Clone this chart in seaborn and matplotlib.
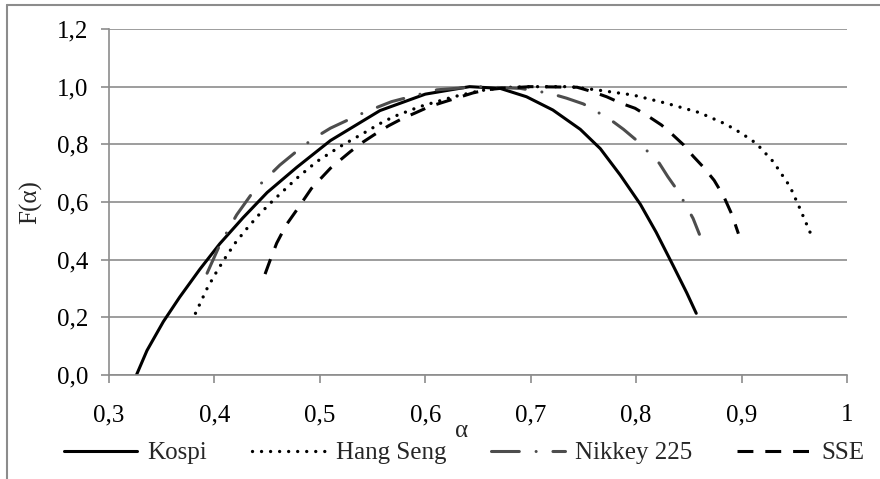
import matplotlib
matplotlib.use('Agg')
import matplotlib.pyplot as plt
import seaborn as sns
import pandas as pd

# multifractal spectra
kospi_a = [0.326, 0.336, 0.3515, 0.367, 0.386, 0.405, 0.427, 0.45, 0.478, 0.51, 0.557, 0.60,
           0.642, 0.671, 0.696, 0.721, 0.747, 0.766, 0.785, 0.804, 0.819, 0.835, 0.848, 0.857]
kospi_f = [0.0, 0.085, 0.185, 0.27, 0.366, 0.455, 0.545, 0.633, 0.72, 0.813, 0.917, 0.974,
           1.0, 0.994, 0.965, 0.919, 0.852, 0.785, 0.693, 0.592, 0.495, 0.38, 0.285, 0.214]

hang_a = [0.382, 0.393, 0.402, 0.41, 0.4195, 0.431, 0.442, 0.453, 0.478, 0.497, 0.519, 0.544,
          0.557, 0.57, 0.595, 0.627, 0.652, 0.674, 0.70, 0.737, 0.762, 0.797, 0.829, 0.86,
          0.885, 0.90, 0.914, 0.93, 0.946, 0.955, 0.966]
hang_f = [0.214, 0.30, 0.358, 0.405, 0.457, 0.509, 0.555, 0.596, 0.682, 0.74, 0.792, 0.844,
          0.872, 0.896, 0.931, 0.965, 0.986, 0.997, 1.0, 1.0, 0.989, 0.971, 0.942, 0.91,
          0.87, 0.838, 0.803, 0.74, 0.653, 0.58, 0.486]

nikkey_a = [0.393, 0.405, 0.413, 0.421, 0.438, 0.45, 0.462, 0.484, 0.497, 0.51, 0.538, 0.552,
            0.568, 0.611, 0.65, 0.69, 0.718, 0.734, 0.75, 0.775, 0.788, 0.801, 0.822, 0.83,
            0.84, 0.854, 0.86]
nikkey_f = [0.353, 0.451, 0.503, 0.555, 0.642, 0.685, 0.728, 0.794, 0.827, 0.856, 0.904, 0.925,
            0.948, 0.989, 1.0, 0.994, 0.977, 0.96, 0.94, 0.887, 0.852, 0.812, 0.734, 0.688,
            0.636, 0.543, 0.488]

sse_a = [0.448, 0.453, 0.459, 0.468, 0.478, 0.492, 0.51, 0.529, 0.541, 0.551, 0.565, 0.578,
         0.59, 0.604, 0.617, 0.631, 0.645, 0.658, 0.671, 0.70, 0.744, 0.758, 0.772, 0.786,
         0.799, 0.812, 0.824, 0.835, 0.845, 0.854, 0.864, 0.874, 0.883, 0.891, 0.897]
sse_f = [0.35, 0.40, 0.457, 0.52, 0.572, 0.647, 0.717, 0.775, 0.808, 0.832, 0.864, 0.889,
         0.908, 0.931, 0.946, 0.962, 0.978, 0.989, 0.994, 1.0, 0.998, 0.983, 0.965, 0.942,
         0.925, 0.896, 0.867, 0.832, 0.798, 0.759, 0.72, 0.675, 0.62, 0.555, 0.49]

x_ticks = [0.3, 0.4, 0.5, 0.6, 0.7, 0.8, 0.9, 1.0]
x_labels = ['0,3', '0,4', '0,5', '0,6', '0,7', '0,8', '0,9', '1']
y_ticks = [0.0, 0.2, 0.4, 0.6, 0.8, 1.0, 1.2]
y_labels = ['0,0', '0,2', '0,4', '0,6', '0,8', '1,0', '1,2']

series = [
    ('Kospi', kospi_a, kospi_f, 'black', '-', 2.2, 'butt'),
    ('Hang Seng', hang_a, hang_f, 'black', (0, (0.01, 2.7)), 2.4, 'round'),
    ('Nikkey 225', nikkey_a, nikkey_f, '#4d4d4d', (0, (9.1, 5.5, 0.01, 5.5)), 2.2, 'round'),
    ('SSE', sse_a, sse_f, 'black', (0, (5.2, 3.9)), 2.2, 'butt'),
]

sns.set_style('white')
plt.rcParams['font.family'] = ['Liberation Serif', 'DejaVu Serif']

fig = plt.figure(figsize=(8.8, 4.79), dpi=100)
ax = fig.add_axes([0.1239, 0.2171, 0.8386, 0.7224])

grid_c = '#8c8c8c'
fs = 18
for name, a, f, col, ls, lw, cap in series:
    df = pd.DataFrame({'alpha': a, 'F': f})
    sns.lineplot(data=df, x='alpha', y='F', ax=ax, sort=False, estimator=None,
                 color=col, linestyle=ls, linewidth=lw, label=name,
                 dash_capstyle=cap, solid_capstyle='round', solid_joinstyle='round')

ax.set_xlim(0.3, 1.0)
ax.set_ylim(0, 1.2)
ax.set_xticks(x_ticks)
ax.set_xticklabels(x_labels)
ax.set_yticks(y_ticks)
ax.set_yticklabels(y_labels)
ax.yaxis.grid(True, color=grid_c, lw=1.2)
ax.set_axisbelow(True)
for s in ['top', 'right']:
    ax.spines[s].set_visible(False)
for s in ['left', 'bottom']:
    ax.spines[s].set_color(grid_c)
    ax.spines[s].set_linewidth(1.2)
ax.tick_params(axis='both', which='major', direction='out', length=6, width=1.2,
               color=grid_c, labelsize=fs, labelcolor='black')
ax.tick_params(axis='x', pad=15, bottom=True)
ax.tick_params(axis='y', pad=9, left=True)

ax.set_xlabel('α', fontsize=fs, va='center')
ax.xaxis.set_label_coords(0.478, -0.163)
ax.set_ylabel('F(α)', fontsize=fs)
ax.yaxis.set_label_coords(-0.09, 0.5)

ax.get_legend().remove()
handles, labels = ax.get_legend_handles_labels()
fig.legend(handles, labels, loc='center', bbox_to_anchor=(0.527, 1 - 453 / 479),
           ncol=4, frameon=False, fontsize=fs, handlelength=2.95, handletextpad=0.4,
           columnspacing=1.8, borderaxespad=0, borderpad=0)

# outer chart border (Excel chart area)
fig.add_artist(plt.Line2D([7 / 880, 7 / 880], [0, 1 - 4.5 / 479], transform=fig.transFigure,
                          color=grid_c, lw=1.5))
fig.add_artist(plt.Line2D([7 / 880, 1], [1 - 4.5 / 479, 1 - 4.5 / 479], transform=fig.transFigure,
                          color=grid_c, lw=1.5))

fig.savefig('out.png', dpi=100)
